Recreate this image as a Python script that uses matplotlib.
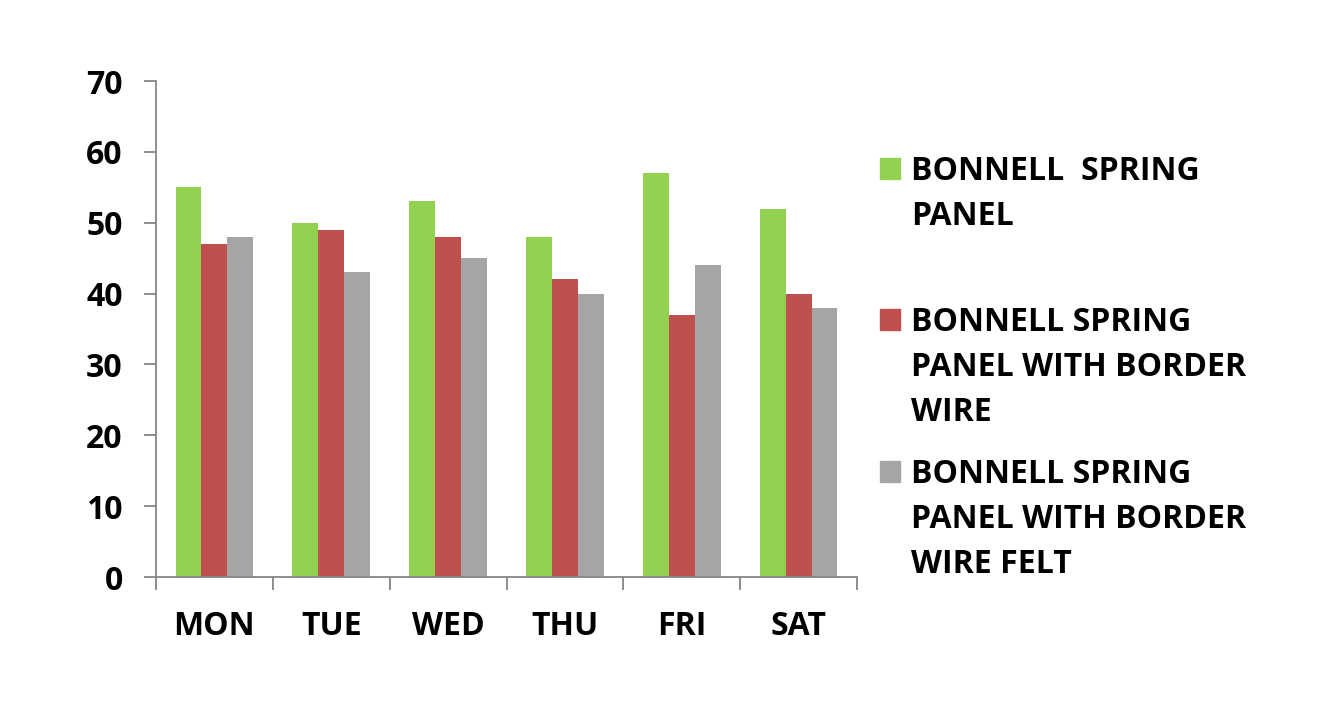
import matplotlib
matplotlib.use("Agg")
import matplotlib.pyplot as plt
import numpy as np
from matplotlib.patches import Rectangle

categories = ["MON", "TUE", "WED", "THU", "FRI", "SAT"]
series_names = [
    ["BONNELL  SPRING", "PANEL"],
    ["BONNELL SPRING", "PANEL WITH BORDER", "WIRE"],
    ["BONNELL SPRING", "PANEL WITH BORDER", "WIRE FELT"],
]
bonnell = [55, 50, 53, 48, 57, 52]
border_wire = [47, 49, 48, 42, 37, 40]
border_wire_felt = [48, 43, 45, 40, 44, 38]
colors = ["#92D050", "#C0504D", "#A5A5A5"]
yticks = [0, 10, 20, 30, 40, 50, 60, 70]

FONT = "Open Sans"
FS = 23

W, H = 1341, 708
fig = plt.figure(figsize=(W / 100, H / 100), dpi=100)
ax = fig.add_axes([156 / W, 1 - 577 / H, (857 - 156) / W, (577 - 81) / H])

x = np.arange(len(categories))
bw = 0.222
for i, vals in enumerate([bonnell, border_wire, border_wire_felt]):
    ax.bar(x + (i - 1) * bw, vals, width=bw, color=colors[i], edgecolor="none")

ax.set_xlim(-0.5, len(categories) - 0.5)
ax.set_ylim(0, 70)
ax.set_yticks(yticks)
ax.set_yticklabels([str(v) for v in yticks], fontfamily=FONT, fontweight="bold", fontsize=FS)
ax.set_xticks(x)
ax.set_xticklabels(categories, fontfamily=FONT, fontweight="bold", fontsize=FS)
ax.set_xticks(np.arange(len(categories) + 1) - 0.5, minor=True)
ax.tick_params(axis="x", which="major", length=0, pad=24)
ax.tick_params(axis="x", which="minor", length=9, width=1.3, color="#868686", direction="out")
ax.tick_params(axis="y", length=9, width=1.3, color="#868686", direction="out", pad=15)

for s in ["top", "right"]:
    ax.spines[s].set_visible(False)
for s in ["left", "bottom"]:
    ax.spines[s].set_color("#868686")
    ax.spines[s].set_linewidth(1.3)

# Legend (manual, to match uneven entry spacing)
baselines = [[180, 225], [331, 376, 421], [483, 528, 573]]
for i, lines in enumerate(series_names):
    b0 = baselines[i][0]
    sq_top = b0 - 22
    fig.patches.append(Rectangle((880 / W, 1 - (sq_top + 21) / H), 20 / W, 21 / H,
                                 transform=fig.transFigure, color=colors[i], figure=fig))
    for line, b in zip(lines, baselines[i]):
        fig.text(911 / W, 1 - b / H, line, fontfamily=FONT, fontweight="bold",
                 fontsize=FS, va="baseline", ha="left")

fig.savefig("out.png", dpi=100)
